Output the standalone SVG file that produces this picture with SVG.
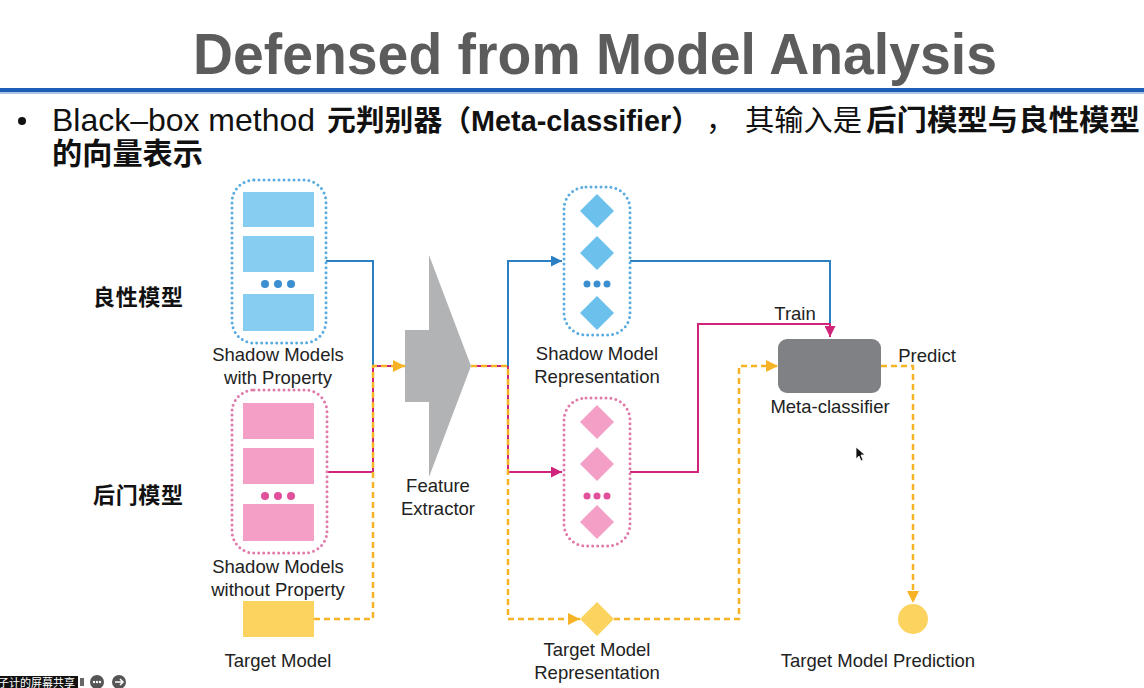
<svg xmlns="http://www.w3.org/2000/svg" width="1144" height="688" viewBox="0 0 1144 688">
<defs>
<style>
.lbl{font-family:"Liberation Sans","Noto Sans CJK SC",sans-serif;font-size:18.5px;fill:#222;text-anchor:middle}
.cjk{font-family:"Liberation Sans","Noto Sans CJK SC",sans-serif;font-weight:bold;fill:#111}
.blue{fill:none;stroke:#2b7fc3;stroke-width:2}
.mag{fill:none;stroke:#d0237a;stroke-width:2}
.org{fill:none;stroke:#f6b326;stroke-width:2.5;stroke-dasharray:6 4}
.dotb{fill:none;stroke:#5aabdf;stroke-width:3;stroke-dasharray:0 5;stroke-linecap:round}
.dotp{fill:none;stroke:#e07aaa;stroke-width:3;stroke-dasharray:0 5;stroke-linecap:round}
.fb{fill:#87cdf1}
.fd{fill:#6cc0ec}
.fp{fill:#f4a0c6}
.fy{fill:#fbd35e}
</style>
<marker id="ab" viewBox="0 0 10 10" refX="10" refY="5" markerWidth="11" markerHeight="11" markerUnits="userSpaceOnUse" orient="auto"><path d="M0,0L10,5L0,10z" fill="#2b7fc3"/></marker>
<marker id="am" viewBox="0 0 10 10" refX="10" refY="5" markerWidth="11" markerHeight="11" markerUnits="userSpaceOnUse" orient="auto"><path d="M0,0L10,5L0,10z" fill="#d0237a"/></marker>
<marker id="ao" viewBox="0 0 10 10" refX="10" refY="5" markerWidth="12" markerHeight="12" markerUnits="userSpaceOnUse" orient="auto"><path d="M0,0L10,5L0,10z" fill="#f6b326"/></marker>
</defs>
<rect width="1144" height="688" fill="#fff"/>

<g id="header">
<text x="193" y="74" font-family="Liberation Sans, sans-serif" font-weight="bold" font-size="58" fill="#5c5c5c" textLength="804" lengthAdjust="spacingAndGlyphs">Defensed from Model Analysis</text>
<rect x="0" y="88" width="1144" height="4" fill="#1e5db5"/>
<rect x="0" y="92" width="1144" height="2" fill="#a9c4e6"/>
<circle cx="22" cy="121" r="4" fill="#111"/>
<text y="131" font-family="Liberation Sans, Noto Sans CJK SC, sans-serif" fill="#111">
<tspan x="52" font-size="32" textLength="263" lengthAdjust="spacingAndGlyphs">Black–box method</tspan>
<tspan x="327" font-size="29" font-weight="bold" textLength="373" lengthAdjust="spacingAndGlyphs">元判别器（Meta-classifier）</tspan>
<tspan x="706" font-size="29">，</tspan>
<tspan x="745" font-size="29" textLength="117" lengthAdjust="spacingAndGlyphs">其输入是</tspan>
<tspan x="866" font-size="29" font-weight="bold" textLength="274" lengthAdjust="spacingAndGlyphs">后门模型与良性模型</tspan>
</text>
<text x="52" y="164" class="cjk" font-size="30" textLength="151" lengthAdjust="spacingAndGlyphs">的向量表示</text>
</g>

<g id="label-benign"><text x="93" y="305" class="cjk" font-size="22" textLength="90">良性模型</text></g>
<g id="label-backdoor"><text x="93" y="503" class="cjk" font-size="22" textLength="90">后门模型</text></g>

<g id="connectors">
<path class="blue" d="M326,261H373V366"/>
<path class="mag" d="M327,472H373V366H400"/>
<path class="org" d="M314,619H373V366H405" marker-end="url(#ao)"/>
<path class="mag" d="M471,366H508"/>
<path class="blue" d="M508,366V261H562" marker-end="url(#ab)"/>
<path class="mag" d="M508,366V472H562" marker-end="url(#am)"/>
<path class="org" d="M471,366H508V619H580" marker-end="url(#ao)"/>
<path class="blue" d="M630,261H830V325"/>
<path class="mag" d="M630,472H698V324H830V337" marker-end="url(#am)"/>
<path class="org" d="M614,619H739V366H778" marker-end="url(#ao)"/>
<path class="org" d="M881,366H913V603" marker-end="url(#ao)"/>
</g>

<g id="shadow-with">
<rect x="232" y="180" width="94" height="163" rx="22" class="dotb"/>
<rect x="243" y="192" width="71" height="35" class="fb"/>
<rect x="243" y="236" width="71" height="36" class="fb"/>
<circle cx="265" cy="284" r="4" fill="#3b8fd1"/><circle cx="278" cy="284" r="4" fill="#3b8fd1"/><circle cx="291" cy="284" r="4" fill="#3b8fd1"/>
<rect x="243" y="294" width="71" height="37" class="fb"/>
<text x="278" y="361" class="lbl">Shadow Models</text>
<text x="278" y="384" class="lbl">with Property</text>
</g>

<g id="shadow-without">
<rect x="232" y="390" width="95" height="163" rx="22" class="dotp"/>
<rect x="243" y="403" width="71" height="36" class="fp"/>
<rect x="243" y="448" width="71" height="36" class="fp"/>
<circle cx="265" cy="496" r="4" fill="#e1509a"/><circle cx="278" cy="496" r="4" fill="#e1509a"/><circle cx="291" cy="496" r="4" fill="#e1509a"/>
<rect x="243" y="504" width="71" height="37" class="fp"/>
<text x="278" y="573" class="lbl">Shadow Models</text>
<text x="278" y="596" class="lbl">without Property</text>
</g>

<g id="target-model">
<rect x="243" y="601" width="71" height="36" class="fy"/>
<text x="278" y="667" class="lbl">Target Model</text>
</g>

<g id="feature-extractor">
<polygon points="429,255 471,366 429,477 429,402 405,402 405,330 429,330" fill="#b2b3b5"/>
<text x="438" y="492" class="lbl">Feature</text>
<text x="438" y="515" class="lbl">Extractor</text>
</g>

<g id="shadow-rep">
<rect x="564" y="187" width="66" height="148" rx="22" class="dotb"/>
<polygon points="597,194 614,211 597,228 580,211" class="fd"/>
<polygon points="597,236 614,253 597,270 580,253" class="fd"/>
<circle cx="587" cy="284" r="3.5" fill="#3b8fd1"/><circle cx="597" cy="284" r="3.5" fill="#3b8fd1"/><circle cx="607" cy="284" r="3.5" fill="#3b8fd1"/>
<polygon points="597,296 614,313 597,330 580,313" class="fd"/>
<text x="597" y="360" class="lbl">Shadow Model</text>
<text x="597" y="383" class="lbl">Representation</text>
</g>

<g id="shadow-rep-without">
<rect x="564" y="398" width="66" height="148" rx="22" class="dotp"/>
<polygon points="597,405 614,422 597,439 580,422" class="fp"/>
<polygon points="597,447 614,464 597,481 580,464" class="fp"/>
<circle cx="587" cy="496" r="3.5" fill="#e1509a"/><circle cx="597" cy="496" r="3.5" fill="#e1509a"/><circle cx="607" cy="496" r="3.5" fill="#e1509a"/>
<polygon points="597,505 614,522 597,539 580,522" class="fp"/>
</g>

<g id="target-rep">
<polygon points="597,602 614,619 597,636 580,619" class="fy"/>
<text x="597" y="656" class="lbl">Target Model</text>
<text x="597" y="679" class="lbl">Representation</text>
</g>

<g id="meta-classifier">
<rect x="778" y="339" width="103" height="54" rx="9" fill="#808184"/>
<text x="830" y="413" class="lbl">Meta-classifier</text>
<text x="795" y="320" class="lbl">Train</text>
<text x="927" y="362" class="lbl">Predict</text>
</g>

<g id="prediction">
<circle cx="913" cy="619" r="15" class="fy"/>
<text x="878" y="667" class="lbl">Target Model Prediction</text>
</g>

<g id="cursor">
<polygon points="856,447 856,459 859,456 861,461 863,460 861,455 865,455" fill="#111" stroke="#fff" stroke-width="0.8"/>
</g>

<g id="share-bar">
<rect x="0" y="676" width="78" height="12" fill="#111"/>
<text x="-2" y="687" font-family="Noto Sans CJK SC, sans-serif" font-size="11" fill="#fff">子计的屏幕共享</text>
<rect x="80" y="678" width="4" height="8" fill="#666"/>
<circle cx="97" cy="682" r="7" fill="#555"/>
<circle cx="94" cy="682" r="1.2" fill="#fff"/><circle cx="97" cy="682" r="1.2" fill="#fff"/><circle cx="100" cy="682" r="1.2" fill="#fff"/>
<circle cx="119" cy="682" r="7" fill="#555"/>
<path d="M115,682H123M120,679L123,682L120,685" fill="none" stroke="#fff" stroke-width="1.5"/>
</g>
</svg>
